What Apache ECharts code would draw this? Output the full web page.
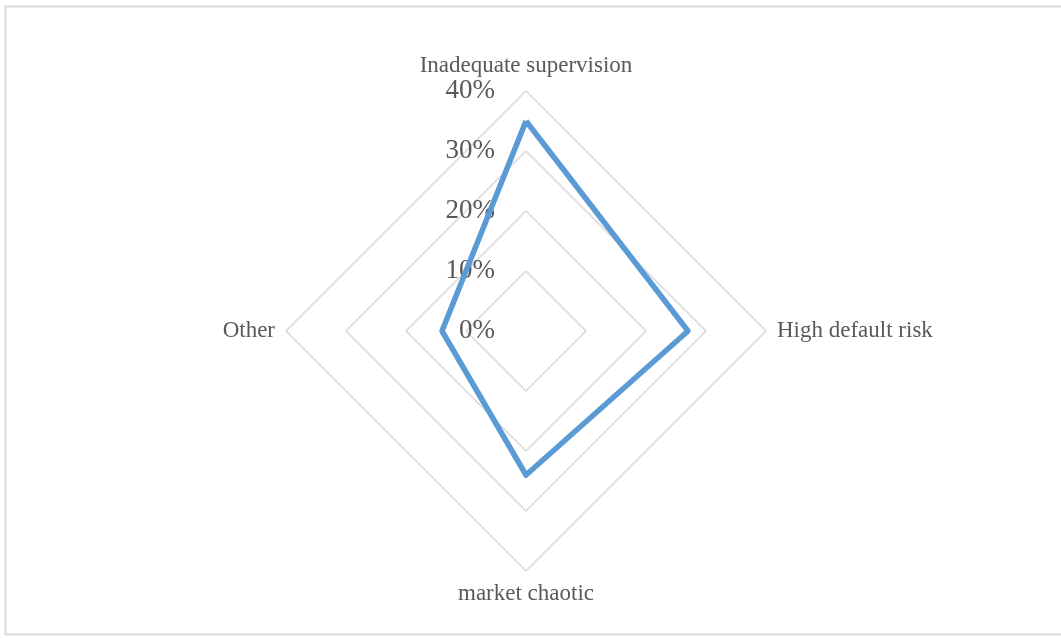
<!DOCTYPE html>
<html>
<head>
<meta charset="utf-8">
<script src="https://cdn.jsdelivr.net/npm/echarts@6/dist/echarts.min.js"></script>
<style>
  html, body { margin: 0; padding: 0; background: #ffffff; }
  #chart { width: 1061px; height: 638px; }
</style>
</head>
<body>
<div id="chart"></div>
<script>
// Categories listed clockwise starting from the top spoke
const categories = ['Inadequate supervision', 'High default risk', 'market chaotic', 'Other'];
// Share of respondents per reason (%)
const shares = [35, 27, 24, 14];
// Scale of the radial axis (%)
const axisMin = 0;
const axisMax = 40;
const axisStep = 10;

// ECharts lays indicators out counter-clockwise, so keep the first one on top
// and reverse the rest to obtain a clockwise reading order.
const order = [0].concat(categories.map((_, i) => i).slice(1).reverse());

const indicators = order.map((idx, k) => ({
  name: categories[idx],
  min: axisMin,
  max: axisMax,
  axisLabel: { show: k === 0 }
}));

const chart = echarts.init(document.getElementById('chart'), null, { renderer: 'canvas' });

chart.setOption({
  backgroundColor: '#ffffff',
  animation: false,
  graphic: [{
    type: 'rect',
    shape: { x: 5.5, y: 6.5, width: 1070, height: 628 },
    style: { fill: 'none', stroke: '#d9d9d9', lineWidth: 2 },
    silent: true
  }],
  radar: {
    center: [526, 331],
    radius: 240,
    startAngle: 90,
    shape: 'polygon',
    splitNumber: (axisMax - axisMin) / axisStep,
    indicator: indicators,
    nameGap: 11,
    axisName: {
      color: '#595959',
      fontFamily: 'Liberation Serif',
      fontSize: 23
    },
    axisLine: { show: false },
    axisTick: { show: false },
    axisLabel: {
      show: false,
      color: '#595959',
      fontFamily: 'Liberation Serif',
      fontSize: 27,
      margin: 31,
      formatter: v => v + '%'
    },
    splitLine: { lineStyle: { color: '#d9d9d9', width: 1.5 } },
    splitArea: { show: false }
  },
  series: [{
    type: 'radar',
    symbol: 'none',
    lineStyle: { color: '#5b9bd5', width: 5.5 },
    data: [{ value: order.map(i => shares[i]) }]
  }]
});
</script>
</body>
</html>
